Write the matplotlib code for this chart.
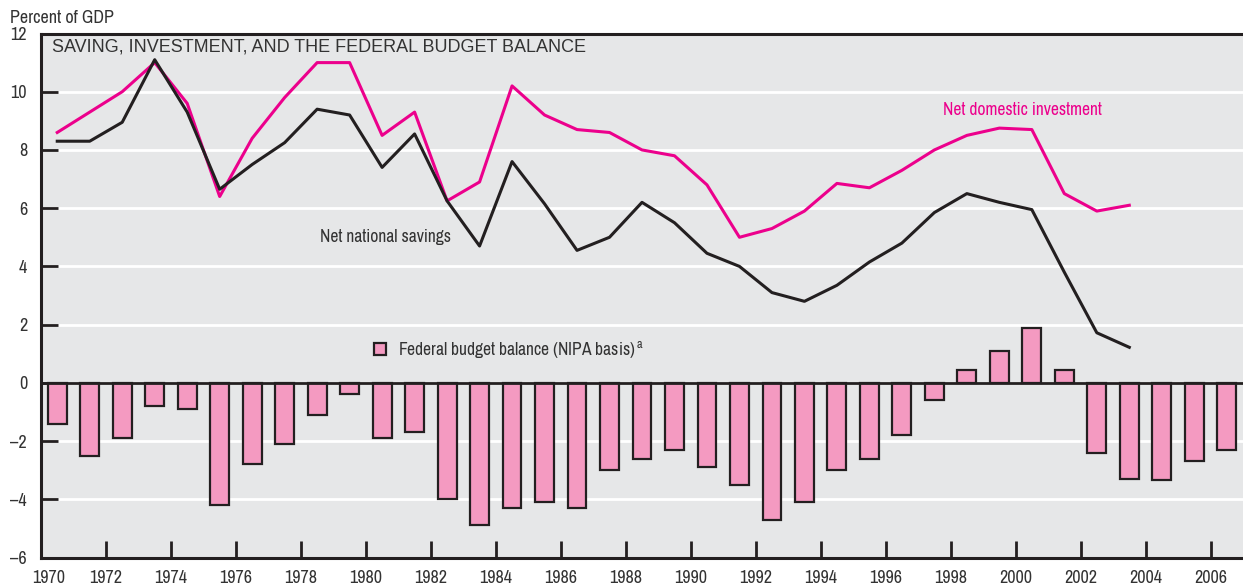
import matplotlib
matplotlib.use('Agg')
import matplotlib.pyplot as plt
import matplotlib.transforms as mtransforms
import numpy as np

# data (percent of GDP)
years = np.arange(1970, 2007)
budget_balance = [-1.4, -2.5, -1.9, -0.8, -0.9, -4.2, -2.8, -2.1, -1.1, -0.4,
                  -1.9, -1.7, -4.0, -4.9, -4.3, -4.1, -4.3, -3.0, -2.6, -2.3,
                  -2.9, -3.5, -4.7, -4.1, -3.0, -2.6, -1.8, -0.6, 0.45, 1.1,
                  1.9, 0.45, -2.4, -3.3, -3.35, -2.7, -2.3]

line_years = np.arange(1970, 2004)
net_investment = [8.6, 9.3, 10.0, 11.0, 9.6, 6.4, 8.4, 9.8, 11.0, 11.0,
                  8.5, 9.3, 6.25, 6.9, 10.2, 9.2, 8.7, 8.6, 8.0, 7.8,
                  6.8, 5.0, 5.3, 5.9, 6.85, 6.7, 7.3, 8.0, 8.5, 8.75,
                  8.7, 6.5, 5.9, 6.1]
net_savings = [8.3, 8.3, 8.95, 11.1, 9.3, 6.65, 7.5, 8.25, 9.4, 9.2,
               7.4, 8.55, 6.25, 4.7, 7.6, 6.15, 4.55, 5.0, 6.2, 5.5,
               4.45, 4.0, 3.1, 2.8, 3.35, 4.15, 4.8, 5.85, 6.5, 6.2,
               5.95, 3.8, 1.72, 1.22]

yticks = np.arange(-6, 13, 2)
xticks = np.arange(1970, 2007, 2)

dark = '#231f20'
txt_col = '#333333'
pink_fill = '#f49ac1'
magenta = '#ec008c'
bg = '#e6e7e8'

narrow = ['Archivo Narrow', 'DejaVu Sans']
plt.rcParams['font.family'] = narrow
plt.rcParams['mathtext.fontset'] = 'custom'
plt.rcParams['mathtext.rm'] = 'Archivo Narrow'

fig = plt.figure(figsize=(12.43, 5.86), dpi=100)
# axes box: left spine at x=41px, top at y=33.5px, bottom at y=557.5px
ax = fig.add_axes([41 / 1243, 28.5 / 586, 1 - 41 / 1243, 524 / 586])
ax.set_facecolor(bg)

ax.set_xlim(1970, 2007)
ax.set_ylim(-6, 12)

# white gridlines
for y in yticks[1:-1]:
    ax.axhline(y, color='white', lw=2, zorder=1)

bars = ax.bar(years + 0.5, budget_balance, width=0.58, color=pink_fill,
              edgecolor=dark, linewidth=1.6, zorder=2,
              label='Federal budget balance (NIPA basis)$^{\\,\\mathrm{a}}$')
ax.axhline(0, color=dark, lw=2, zorder=3)

ax.plot(line_years + 0.5, net_investment, color=magenta, lw=2.2, zorder=4)
ax.plot(line_years + 0.5, net_savings, color=dark, lw=2.2, zorder=5)

for s in ['left', 'top', 'bottom']:
    ax.spines[s].set_linewidth(2.2)
    ax.spines[s].set_color(dark)
ax.spines['right'].set_visible(False)

ax.set_yticks(yticks)
ax.set_yticklabels([str(v).replace('-', '\u2013') for v in yticks])
ax.set_xticks(xticks)
ax.set_xticklabels([str(v) for v in xticks])
ax.tick_params(axis='both', direction='in', length=12, width=2, color=dark,
               labelsize=13, labelcolor=txt_col)
ax.tick_params(axis='y', pad=10)
ax.tick_params(axis='x', pad=9)

# nudge first year label off the corner
lbl0 = ax.get_xticklabels()[0]
lbl0.set_transform(lbl0.get_transform() +
                   mtransforms.ScaledTranslation(8 / 100, 0, fig.dpi_scale_trans))

fig.text(10 / 1243, 1 - 18 / 586, 'Percent of GDP', fontsize=13,
         color=txt_col, va='center', ha='left')

ax.text(11 / 1202, 1 - 14 / 524, 'SAVING, INVESTMENT, AND THE FEDERAL BUDGET BALANCE',
        transform=ax.transAxes, fontsize=13, family=['Liberation Sans', 'DejaVu Sans'],
        color=txt_col, va='center', ha='left')

ax.text(2000.2, 9.38, 'Net domestic investment',
        color=magenta, fontsize=12.6, ha='center', va='center')
ax.text(1980.6, 5.0, 'Net national savings', color=txt_col,
        fontsize=12.6, ha='center', va='center')

leg = ax.legend(handles=[bars], loc='center left',
                bbox_to_anchor=((374 - 41) / 1202, (1.15 + 6) / 18),
                frameon=False, fontsize=12.6, handlelength=0.7, handleheight=0.7,
                handletextpad=0.7, borderpad=0, borderaxespad=0)
for t in leg.get_texts():
    t.set_color(txt_col)

fig.savefig('out.png', dpi=100)
